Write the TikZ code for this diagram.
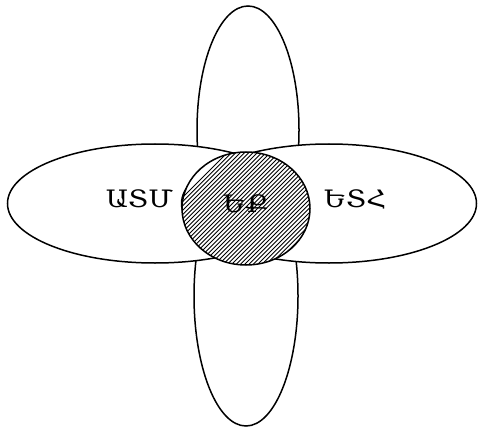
\documentclass[tikz,border=0pt]{standalone}
\usepackage{fontspec}
\newfontfamily\armfont[FakeStretch=1.15]{DejaVu Serif}
\begin{document}
\begin{tikzpicture}[x=1pt,y=-1pt,
  petal/.style={draw=black,fill=white,line width=1.5pt},
  core/.style={draw=black,line width=1.5pt},
  hatchline/.style={draw=black,line width=0.9pt},
  tag/.style={font=\armfont\fontsize{24}{24}\selectfont,inner sep=0pt,anchor=base}]
\useasboundingbox (0,0) rectangle (478,430);
% vertical petals
\draw[petal] (246,296) ellipse [x radius=52, y radius=130];
\draw[petal] (248,130) ellipse [x radius=51, y radius=124];
% horizontal petals
\draw[petal] (155,203.5) ellipse [x radius=147.5, y radius=59.5];
\draw[petal] (329,203.5) ellipse [x radius=147.5, y radius=59.5];
% hatched centre
\fill[white] (246,208.5) ellipse [x radius=64, y radius=56.5];
\begin{scope}
  \clip (246,208.5) ellipse [x radius=64, y radius=56.5];
  \foreach \k in {0,...,60} {
    \draw[hatchline] (100+4.3*\k,280) -- ++(140,-140);
  }
\end{scope}
\draw[core] (246,208.5) ellipse [x radius=64, y radius=56.5];
% labels
\node[tag] (l) at (139.5,207) {ԱՏՄ};
\node[tag] (r) at (355,207) {ԵՏՀ};
\node[tag] (c) at (246,212) {ԵՔ};
\end{tikzpicture}
\end{document}
